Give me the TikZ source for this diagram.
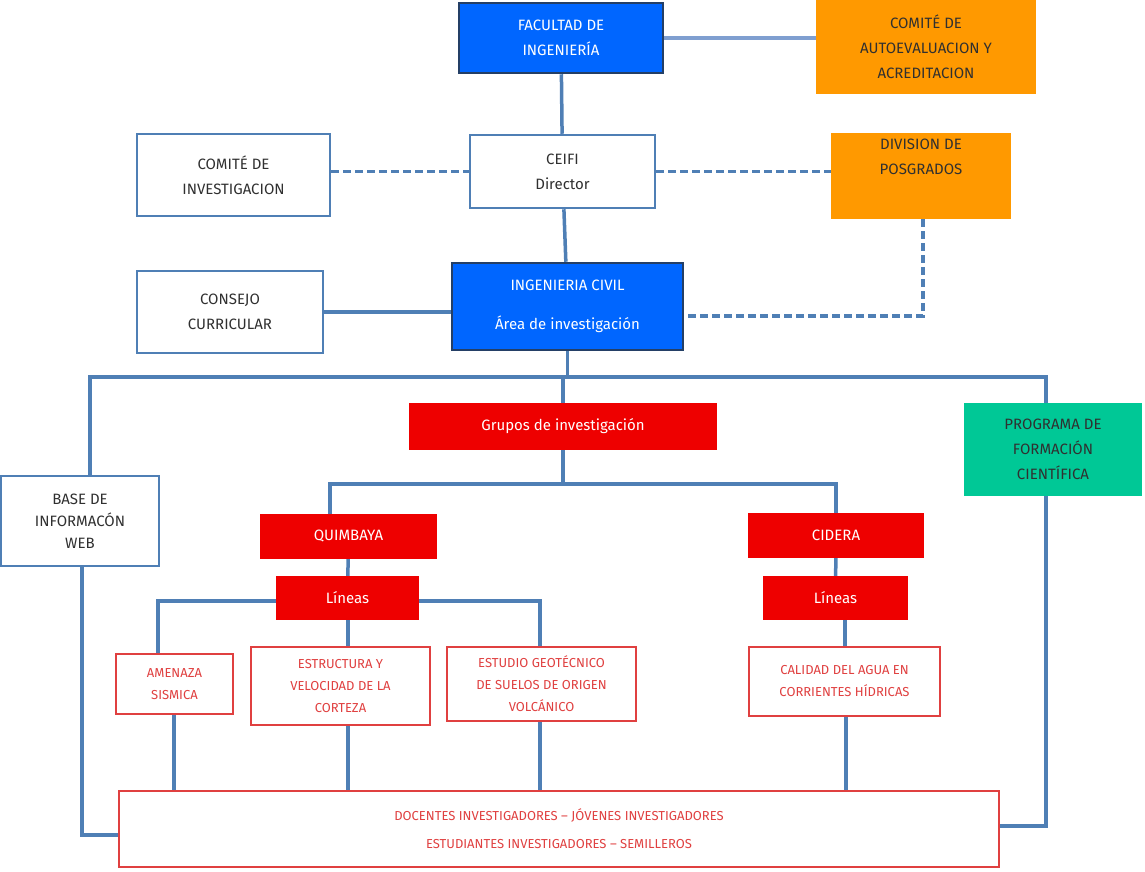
\documentclass[tikz,border=0pt]{standalone}
\usepackage{fontspec}
\setmainfont{Fira Sans}
\begin{document}
\begin{tikzpicture}[x=1pt,y=-1pt,
 bx/.style={draw=lb,line width=2.5pt,fill=white,align=center,inner sep=0pt,font=\fontsize{15}{25}\selectfont\color{txt}},
 bl/.style={draw=db,line width=2.5pt,fill=bfill,align=center,inner sep=0pt,text=white,font=\fontsize{15}{25}\selectfont},
 og/.style={draw=none,fill=orng,align=center,inner sep=0pt,font=\fontsize{15}{25}\selectfont\color{txt}},
 rd/.style={draw=none,fill=rfill,align=center,inner sep=0pt,text=white,font=\fontsize{15}{25}\selectfont},
 rb/.style={draw=rline,line width=2.5pt,fill=white,align=center,inner sep=0pt,text=rline,font=\fontsize{13}{22}\selectfont},
 ln/.style={draw=lb,line width=3.5pt},
 dl/.style={draw=lb,line width=3.5pt,dash pattern=on 8pt off 4pt}]
\definecolor{lb}{HTML}{4F7FB5}
\definecolor{db}{HTML}{243F66}
\definecolor{bfill}{HTML}{0066FF}
\definecolor{orng}{HTML}{FF9900}
\definecolor{rfill}{HTML}{EE0000}
\definecolor{rline}{HTML}{E04040}
\definecolor{grn}{HTML}{00C896}
\definecolor{txt}{HTML}{303030}
\definecolor{lt}{HTML}{7F9FD0}
\useasboundingbox (0,0) rectangle (1145,871);
\def\B#1#2#3#4#5#6#7{\node[#1,minimum width=#5-#3,minimum height=#6-#4] (#2) at ({(#3+#5)/2},{(#4+#6)/2}) {#7};}
% lines first
\coordinate (jl) at (90,377); \coordinate (jr) at (1046,377);
\coordinate (g1) at (330,484); \coordinate (g2) at (836,484);
\coordinate (l1) at (158,601); \coordinate (l2) at (540,601);
\B{bl}{fac}{459}{3}{663}{73}{FACULTAD DE\\INGENIERÍA}
\B{og}{com}{816}{0}{1036}{94}{COMITÉ DE\\AUTOEVALUACION Y\\ACREDITACION}
\B{bx}{ci}{137}{134}{330}{216}{COMITÉ DE\\INVESTIGACION}
\B{bx}{cei}{470}{135}{655}{208}{CEIFI\\Director}
\B{og}{div}{831}{133}{1011}{219}{DIVISION DE\\POSGRADOS\\[14pt]}
\B{bx}{con}{137}{271}{323}{353}{CONSEJO\\CURRICULAR}
\B{bl}{ing}{452}{263}{683}{350}{INGENIERIA CIVIL\\[14pt]Área de investigación}
\B{rd}{gru}{409}{403}{717}{450}{Grupos de investigación}
\B{og,fill=grn}{pro}{964}{403}{1142}{496}{PROGRAMA DE\\FORMACIÓN\\CIENTÍFICA}
\B{bx,font=\fontsize{15}{22}\selectfont\color{txt}}{bas}{1}{476}{159}{566}{BASE DE\\INFORMACÓN\\WEB}
\B{rd}{qui}{260}{514}{437}{559}{QUIMBAYA}
\B{rd}{cid}{748}{513}{924}{558}{CIDERA}
\B{rd}{li1}{276}{576}{419}{620}{Líneas}
\B{rd}{li2}{763}{576}{908}{620}{Líneas}
\B{rb}{ame}{116}{654}{233}{714}{AMENAZA\\SISMICA}
\B{rb}{est}{251}{647}{430}{725}{ESTRUCTURA Y\\VELOCIDAD DE LA\\CORTEZA}
\B{rb}{geo}{447}{647}{636}{721}{ESTUDIO GEOTÉCNICO\\DE SUELOS DE ORIGEN\\VOLCÁNICO}
\B{rb}{cal}{749}{647}{940}{716}{CALIDAD DEL AGUA EN\\CORRIENTES HÍDRICAS}
\B{rb}{doc}{119}{791}{999}{867}{DOCENTES INVESTIGADORES – JÓVENES INVESTIGADORES\\[6pt]ESTUDIANTES INVESTIGADORES – SEMILLEROS}
\begin{scope}[on background layer/.style={}]
\end{scope}
% connectors
\draw[draw=lt,line width=3.5pt] (fac.east) -- (com.west|-fac.east);
\draw[ln] (fac) -- (cei); \draw[ln] (cei) -- (ing);
\draw[dl] (ci.east|-cei) -- (cei.west); \draw[dl] (cei.east) -- (div.west|-cei);
\draw[dl] (div.south-|923,0) |- (ing.east|-0,316);
\draw[ln] (con.east) -- (ing.west|-con.east);
\draw[ln] (ing.south) -- (ing.south|-jl);
\draw[ln] (bas.north-|jl) -- (jl) -- (jr) -- (pro.north-|jr);
\draw[ln] (pro.south-|jr) |- (doc.east|-0,826);
\draw[ln] (bas.south-|82,0) |- (doc.west|-0,835);
\draw[ln] (gru.north) -- (gru.north|-jl);
\draw[ln] (gru.south) -- (gru.south|-g1);
\draw[ln] (qui.north-|g1) -- (g1) -- (g2) -- (cid.north-|g2);
\draw[ln] (qui) -- (li1); \draw[ln] (cid) -- (li2);
\draw[ln] (ame.north-|l1) -- (l1) -- (li1.west|-l1); \draw[ln] (li1.east|-l2) -- (l2) -- (geo.north-|l2);
\draw[ln] (li1.south-|348,0) -- (est.north-|348,0);
\draw[ln] (li2.south-|845,0) -- (cal.north-|845,0);
\draw[ln] (ame.south-|174,0) -- (doc.north-|174,0);
\draw[ln] (est.south-|348,0) -- (doc.north-|348,0);
\draw[ln] (geo.south-|540,0) -- (doc.north-|540,0);
\draw[ln] (cal.south-|846,0) -- (doc.north-|846,0);
% redraw boxes over lines
\B{bl}{fac}{459}{3}{663}{73}{FACULTAD DE\\INGENIERÍA}
\B{bx}{ci}{137}{134}{330}{216}{COMITÉ DE\\INVESTIGACION}
\B{bx}{cei}{470}{135}{655}{208}{CEIFI\\Director}
\B{bl}{ing}{452}{263}{683}{350}{INGENIERIA CIVIL\\[14pt]Área de investigación}
\B{rd}{gru}{409}{403}{717}{450}{Grupos de investigación}
\B{rd}{qui}{260}{514}{437}{559}{QUIMBAYA}
\B{rd}{cid}{748}{513}{924}{558}{CIDERA}
\B{rd}{li1}{276}{576}{419}{620}{Líneas}
\B{rd}{li2}{763}{576}{908}{620}{Líneas}
\B{rb}{doc}{119}{791}{999}{867}{DOCENTES INVESTIGADORES – JÓVENES INVESTIGADORES\\[6pt]ESTUDIANTES INVESTIGADORES – SEMILLEROS}
\end{tikzpicture}
\end{document}
